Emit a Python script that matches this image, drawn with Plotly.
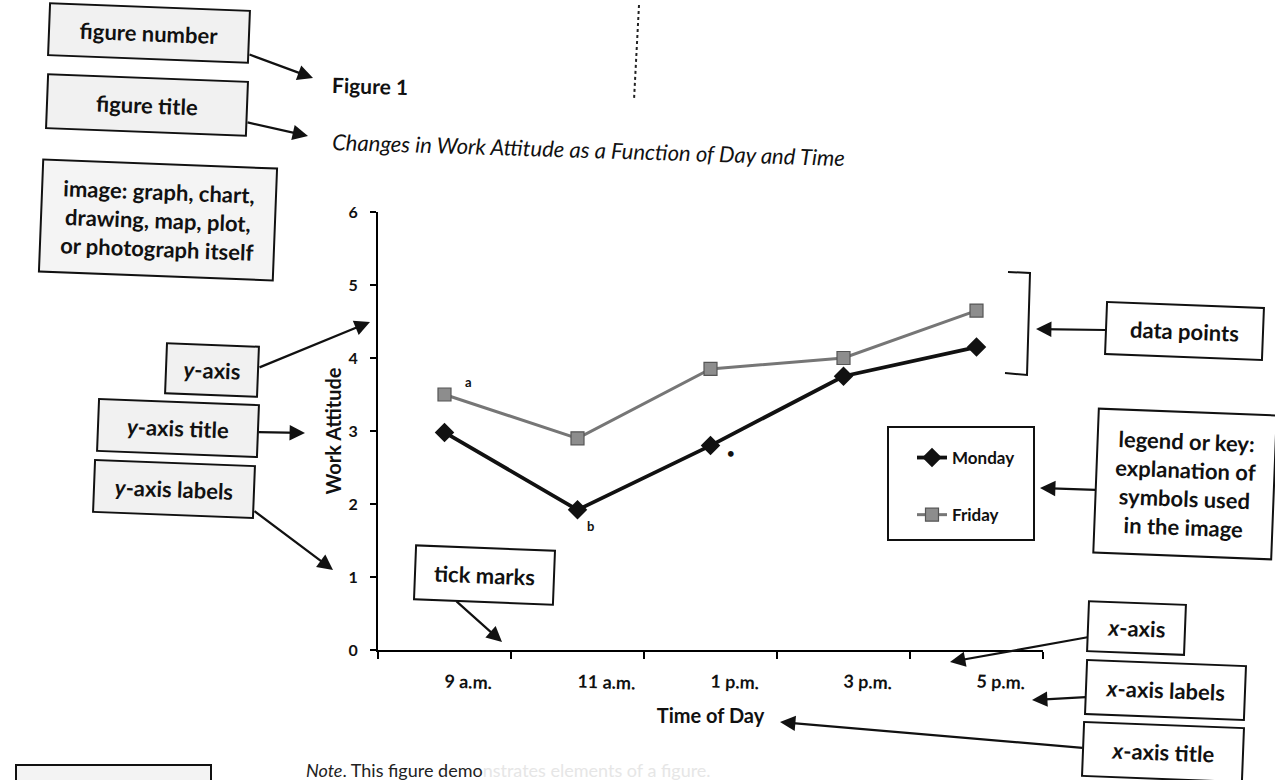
import plotly.graph_objects as go

# ---- data ----
times = ["9 a.m.", "11 a.m.", "1 p.m.", "3 p.m.", "5 p.m."]
monday = [2.98, 1.92, 2.80, 3.75, 4.15]
friday = [3.50, 2.90, 3.85, 4.00, 4.65]

# ---- page geometry (pixels) ----
W, H = 1275, 780
L, R, T, B = 378, 1043, 212, 650
FONT = "Lato"


def fx(p):
    return (p - L) / (R - L)


def fy(p):
    return (B - p) / (B - T)


fig = go.Figure()
fig.add_trace(go.Scatter(
    x=times, y=monday, name="Monday", mode="lines+markers",
    legendgroup="mon",
    line=dict(color="#111111", width=3.8),
    marker=dict(symbol="diamond", size=15, color="#111111"),
))
fig.add_trace(go.Scatter(
    x=times, y=friday, name="Friday", mode="lines+markers",
    legendgroup="fri",
    line=dict(color="#767676", width=3),
    marker=dict(symbol="square", size=13, color="#8d8d8d",
                line=dict(color="#555555", width=1.2)),
))

fig.update_xaxes(
    type="category", categoryorder="array", categoryarray=times,
    range=[-0.5, 4.5], showline=True, linecolor="black", linewidth=2,
    ticks="outside", tickson="boundaries", ticklen=7, tickwidth=2,
    tickcolor="black", ticklabelstandoff=14, tickangle=2,
    tickfont=dict(family=FONT, size=18, color="#111", weight="bold"),
    showgrid=False, zeroline=False,
    title=dict(text="Time of Day", standoff=16,
               font=dict(family=FONT, size=20, color="#111", weight="bold")),
)
fig.update_yaxes(
    range=[0, 6], dtick=1, showline=True, linecolor="black", linewidth=2,
    ticks="outside", ticklen=6, tickwidth=2, tickcolor="black",
    ticklabelstandoff=9,
    tickfont=dict(family=FONT, size=16, color="#111", weight="bold"),
    showgrid=False, zeroline=False,
    title=dict(text="Work Attitude", standoff=2,
               font=dict(family=FONT, size=20, color="#111", weight="bold")),
)

annotations = []
shapes = []


def text_at(txt, cx, cy, size, angle=0.0, **font_kw):
    return dict(text=txt, x=fx(cx), y=fy(cy), xref="paper", yref="paper",
                xanchor="center", yanchor="middle", showarrow=False,
                textangle=angle,
                font=dict(family=FONT, size=size, color="#111", **font_kw))


# figure number and title
annotations.append(text_at("Figure 1", 370, 85, 21, 1.5, weight="bold"))
annotations.append(text_at(
    "<i>Changes in Work Attitude as a Function of Day and Time</i>",
    588, 150, 22, 1.8))

# point labels
for txt, xi, yv, dx, dy in [("a", 0, friday[0], 24, 13),
                            ("b", 1, monday[1], 13, -16),
                            ("\u2022", 2, monday[2], 20, -7)]:
    annotations.append(dict(
        text=txt, x=times[xi], y=yv, xref="x", yref="y", showarrow=False,
        xanchor="center", yanchor="middle", xshift=dx, yshift=dy,
        font=dict(family=FONT, size=13, color="#111", weight="bold")))

# callout boxes: text, centre x, centre y, width, height, fill
callouts = [
    ("figure number", 149, 33, 198, 50, "#f1f1f1"),
    ("figure title", 147, 105, 198, 52, "#f1f1f1"),
    ("image: graph, chart,<br>drawing, map, plot,<br>or photograph itself",
     158, 220, 232, 110, "#f4f4f4"),
    ("<i>y</i>-axis", 212, 370, 90, 48, "#f1f1f1"),
    ("<i>y</i>-axis title", 178, 428, 158, 50, "#f1f1f1"),
    ("<i>y</i>-axis labels", 174, 489, 158, 50, "#f1f1f1"),
    ("tick marks", 484, 575, 137, 52, "#ffffff"),
    ("data points", 1184, 331, 155, 50, "#ffffff"),
    ("legend or key:<br>explanation of<br>symbols used<br>in the image",
     1185, 484, 176, 142, "#ffffff"),
    ("<i>x</i>-axis", 1136, 628, 95, 48, "#ffffff"),
    ("<i>x</i>-axis labels", 1165, 690, 157, 52, "#ffffff"),
    ("<i>x</i>-axis title", 1163, 752, 158, 52, "#ffffff"),
]
for txt, cx, cy, w, h, bg in callouts:
    box = text_at(txt, cx, cy, 22, 2.2, weight="bold")
    box.update(width=w, height=h, borderpad=0, bordercolor="#111",
               borderwidth=2, bgcolor=bg, align="center")
    annotations.append(box)

# callout arrows: tail (x, y) -> head (x, y)
arrows = [
    ((248, 54), (313, 78)),
    ((246, 122), (308, 136)),
    ((258, 368), (370, 322)),
    ((257, 432), (305, 433)),
    ((253, 510), (333, 570)),
    ((455, 600), (502, 642)),
    ((1107, 330), (1036, 329)),
    ((1097, 490), (1040, 488)),
    ((1089, 637), (950, 662)),
    ((1087, 697), (1032, 700)),
    ((1084, 748), (780, 722)),
]
for (tx, ty), (hx, hy) in arrows:
    annotations.append(dict(
        text="", x=fx(hx), y=fy(hy), xref="paper", yref="paper",
        ax=tx - hx, ay=ty - hy, axref="pixel", ayref="pixel",
        showarrow=True, arrowhead=2, arrowsize=1.4, arrowwidth=2.2,
        arrowcolor="#111", standoff=0, startstandoff=0))

# note under the figure
annotations.append(dict(
    text="<i>Note</i>. This figure demo<span style='color:#e6e6e6'>nstrates elements of a figure.</span>",
    x=fx(304), y=fy(757), xref="paper", yref="paper", xanchor="left",
    yanchor="top", showarrow=False,
    font=dict(family=FONT, size=18, color="#222")))

# bracket around the data points
shapes.append(dict(
    type="path", xref="paper", yref="paper",
    path=f"M {fx(1008)},{fy(272)} L {fx(1030)},{fy(273)} "
         f"L {fx(1027)},{fy(375)} L {fx(1005)},{fy(373)}",
    line=dict(color="#111", width=2)))
# legend frame
shapes.append(dict(
    type="rect", xref="paper", yref="paper",
    x0=fx(888), x1=fx(1034), y0=fy(540), y1=fy(427),
    line=dict(color="#111", width=2), fillcolor="rgba(0,0,0,0)"))
# partially visible note callout box
shapes.append(dict(
    type="rect", xref="paper", yref="paper",
    x0=fx(16), x1=fx(211), y0=fy(800), y1=fy(765),
    line=dict(color="#111", width=2), fillcolor="#f3f3f3"))
# dotted fold mark
shapes.append(dict(
    type="line", xref="paper", yref="paper",
    x0=fx(639), y0=fy(5), x1=fx(634), y1=fy(100),
    line=dict(color="#222", width=2, dash="dot")))

fig.update_layout(
    width=W, height=H, autosize=False,
    margin=dict(l=L, r=W - R, t=T, b=H - B),
    paper_bgcolor="white", plot_bgcolor="white",
    annotations=annotations, shapes=shapes,
    showlegend=True,
    legend=dict(
        x=fx(912), y=fy(440), xanchor="left", yanchor="top",
        bgcolor="rgba(0,0,0,0)", borderwidth=0,
        traceorder="grouped", tracegroupgap=32, itemwidth=30,
        font=dict(family=FONT, size=17, color="#111", weight="bold")),
)

fig.write_html("out.html", config={"displayModeBar": False})
